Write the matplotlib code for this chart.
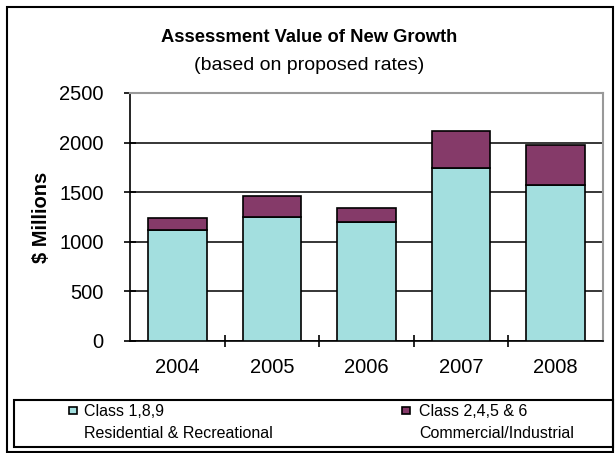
import numpy as np
import matplotlib.pyplot as plt
from matplotlib.patches import Rectangle

plt.rcParams['font.family'] = ['Liberation Sans', 'DejaVu Sans']

years = ['2004', '2005', '2006', '2007', '2008']
residential = [1120, 1255, 1200, 1740, 1575]   # Class 1,8,9
commercial = [120, 205, 145, 380, 405]        # Class 2,4,5 & 6
labels = ['Class 1,8,9\nResidential & Recreational',
          'Class 2,4,5 & 6\nCommercial/Industrial']
yticks = [0, 500, 1000, 1500, 2000, 2500]

teal = '#A3DFDF'
plum = '#853A69'
colors = [teal, plum]

fig = plt.figure(figsize=(6.15, 4.53), dpi=100)
ax = fig.add_axes([130/615, 1-341/453, 473/615, 248/453])

x = np.arange(len(years))
ax.bar(x, residential, width=0.62, color=teal, edgecolor='black', linewidth=1.2, zorder=3)
ax.bar(x, commercial, width=0.62, bottom=residential, color=plum, edgecolor='black',
       linewidth=1.2, zorder=3)

ax.set_xlim(-0.5, len(years) - 0.5)
ax.set_ylim(0, 2500)
ax.set_yticks(yticks)
ax.set_xticks(x)
ax.set_xticklabels(years)
ax.set_xticks(np.arange(0.5, len(years) - 1, 1), minor=True)
ax.tick_params(axis='x', which='major', length=0, pad=12, labelsize=14.5)
ax.tick_params(axis='x', which='minor', direction='inout', length=9, width=1.2)
ax.tick_params(axis='y', direction='inout', length=8, width=1.2, pad=15, labelsize=14.5)

ax.yaxis.grid(True, color='black', linewidth=1.1, zorder=0)
ax.set_axisbelow(True)
for side in ['left', 'bottom']:
    ax.spines[side].set_color('black')
    ax.spines[side].set_linewidth(1.2)
for side in ['top', 'right']:
    ax.spines[side].set_color('#999999')
    ax.spines[side].set_linewidth(1.5)

ax.set_ylabel('$ Millions', fontsize=14.5, fontweight='bold', labelpad=6)

fig.text(0.503, 1-38/453, 'Assessment Value of New Growth', ha='center', va='center',
         fontsize=13.2, fontweight='bold')
fig.text(0.503, 1-66/453, '(based on proposed rates)', ha='center', va='center',
         fontsize=14)

# legend box (drawn by hand so the key sits beside the first line)
fig.patches.append(Rectangle((14/615, 1-447/453), 599/615, 47/453, transform=fig.transFigure,
                             fill=False, edgecolor='black', linewidth=1.5))
key_x = [69, 402]
text_x = [84, 419]
for kx, tx, c, lab in zip(key_x, text_x, colors, labels):
    fig.patches.append(Rectangle((kx/615, 1-414/453), 7.5/615, 7.5/453, transform=fig.transFigure,
                                 facecolor=c, edgecolor='black', linewidth=1.2))
    fig.text(tx/615, 1-404/453, lab, ha='left', va='top', fontsize=11.5, linespacing=1.6)

fig.patches.append(Rectangle((7/615, 1/453), 606/615, 445/453, transform=fig.transFigure,
                             fill=False, edgecolor='black', linewidth=1.5))

fig.savefig('out.png', dpi=100)
